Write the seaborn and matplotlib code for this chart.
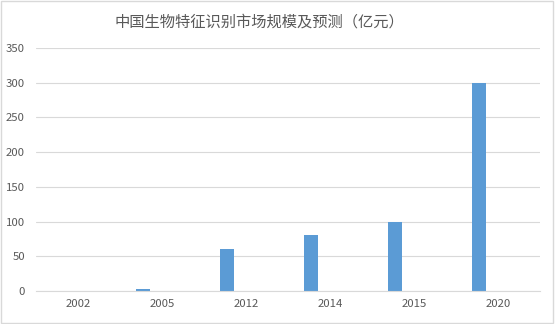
import matplotlib
matplotlib.use("Agg")
import matplotlib.pyplot as plt
import seaborn as sns
import pandas as pd
from matplotlib.patches import Rectangle

years = ["2002", "2005", "2012", "2014", "2015", "2020"]
values = [0.5, 3, 60, 80, 100, 300]
title = "中国生物特征识别市场规模及预测（亿元）"
yticks = [0, 50, 100, 150, 200, 250, 300, 350]

sns.set_theme(style="white")
plt.rcParams['font.family'] = ['Noto Sans CJK SC', 'DejaVu Sans']

df = pd.DataFrame({"year": years, "value": values})

fig = plt.figure(figsize=(5.55, 3.24), dpi=100)
ax = fig.add_axes([0.065, 0.102, 0.908, 0.750])

bar_w = 0.17
sns.barplot(data=df, x="year", y="value", color="#5B9BD5", saturation=1,
            width=bar_w, ax=ax, errorbar=None)
# shift bars left within the category, like an Excel clustered chart
for p in ax.patches:
    p.set_x(p.get_x() - 0.225)
    p.set_edgecolor("none")

ax.set_xlim(-0.5, len(years) - 0.5)
ax.set_ylim(0, 350)
ax.set_yticks(yticks)
ax.yaxis.grid(True, color="#D9D9D9", linewidth=0.8)
ax.set_axisbelow(True)
for s in ["top", "right", "left"]:
    ax.spines[s].set_visible(False)
ax.spines["bottom"].set_color("#D9D9D9")
ax.spines["bottom"].set_linewidth(0.8)
ax.tick_params(axis="both", length=0, colors="#595959", labelsize=8.2)
ax.tick_params(axis="y", pad=8)
ax.tick_params(axis="x", pad=6)
ax.set_xlabel("")
ax.set_ylabel("")

fig.text(0.468, 0.932, title, ha="center", va="center", fontsize=11, color="#595959")

fig.patches.append(Rectangle((0.002, 0.003), 0.995, 0.994, transform=fig.transFigure,
                             fill=False, edgecolor="#D9D9D9", linewidth=1))

fig.savefig("out.png", dpi=100)
